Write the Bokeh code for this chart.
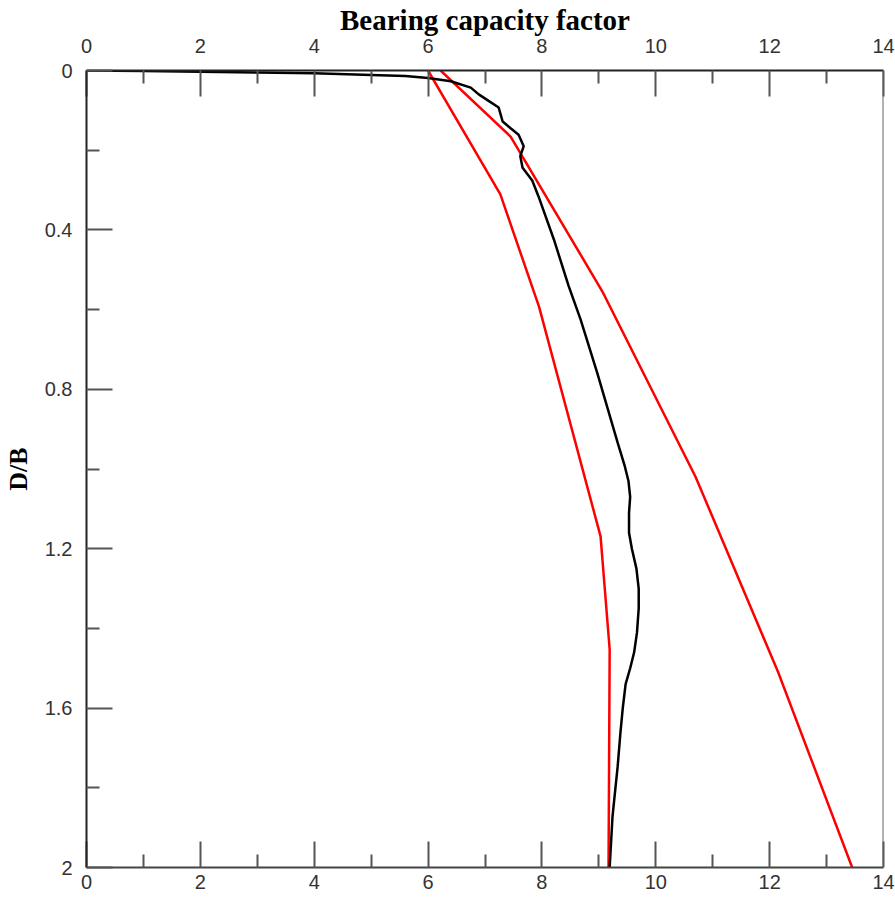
from bokeh.plotting import figure
from bokeh.models import Range1d, LinearAxis, FixedTicker, Span
from bokeh.embed import file_html
from bokeh.resources import INLINE

# ---- data ----
x_ticks = [0, 2, 4, 6, 8, 10, 12, 14]
x_minor = [1, 3, 5, 7, 9, 11, 13]
x_tick_labels = ["0", "2", "4", "6", "8", "10", "12", "14"]
y_ticks = [0, 0.4, 0.8, 1.2, 1.6, 2.0]
y_minor = [0.2, 0.6, 1.0, 1.4, 1.8]
y_tick_labels = ["0", "0.4", "0.8", "1.2", "1.6", "2"]

black_x = [0, 1, 2, 3, 4, 5, 5.6, 6.0, 6.4, 6.75, 6.89, 7.05, 7.24, 7.31, 7.45,
           7.59, 7.68, 7.62, 7.66, 7.83, 7.94, 8.21, 8.47, 8.68, 8.97, 9.33,
           9.45, 9.52, 9.55, 9.53, 9.53, 9.58, 9.66, 9.70, 9.70, 9.67, 9.62,
           9.55, 9.47, 9.42, 9.38, 9.33, 9.24, 9.19]
black_y = [0, 0.001, 0.003, 0.005, 0.007, 0.011, 0.014, 0.019, 0.027, 0.043, 0.06,
           0.075, 0.093, 0.128, 0.145, 0.161, 0.19, 0.215, 0.244, 0.276, 0.316,
           0.424, 0.541, 0.625, 0.758, 0.934, 0.99, 1.03, 1.07, 1.11, 1.16,
           1.20, 1.25, 1.30, 1.35, 1.41, 1.46, 1.50, 1.54, 1.60, 1.66, 1.747,
           1.872, 2.0]

red1_x = [6.0, 7.27, 7.95, 9.03, 9.19, 9.17]
red1_y = [0.0, 0.311, 0.593, 1.169, 1.453, 2.0]

red2_x = [6.22, 7.45, 9.06, 10.70, 12.15, 13.45]
red2_y = [0.0, 0.166, 0.554, 1.02, 1.51, 2.0]

# ---- figure ----
p = figure(frame_width=797, frame_height=797, output_backend="svg",
           toolbar_location=None,
           x_range=Range1d(0, 14), y_range=Range1d(2, 0),
           x_axis_location=None, y_axis_location=None,
           min_border_left=78, min_border_top=63, min_border_right=12,
           min_border_bottom=0)
p.grid.visible = False
p.outline_line_color = None
p.background_fill_color = "white"
p.border_fill_color = "white"

LABEL_FONT = "Liberation Sans"
TITLE_FONT = "Liberation Serif"

def style_axis(ax, ticks, minor, labels, tick_len=26, minor_len=13):
    ax.ticker = FixedTicker(ticks=ticks, minor_ticks=minor)
    ax.major_label_overrides = {t: l for t, l in zip(ticks, labels)}
    ax.major_tick_in = tick_len
    ax.major_tick_out = 0
    ax.minor_tick_in = minor_len
    ax.minor_tick_out = 0
    ax.major_tick_line_color = "#555555"
    ax.minor_tick_line_color = "#555555"
    ax.major_tick_line_width = 2
    ax.minor_tick_line_width = 2
    ax.axis_line_color = "#222222"
    ax.axis_line_width = 2
    ax.major_label_text_font = LABEL_FONT
    ax.major_label_text_font_size = "20px"
    ax.major_label_text_color = "#333333"
    ax.axis_label_text_font = TITLE_FONT
    ax.axis_label_text_font_style = "bold"
    ax.axis_label_text_color = "black"

top = LinearAxis(axis_label="Bearing capacity factor")
style_axis(top, x_ticks, x_minor, x_tick_labels)
top.axis_label_text_font_size = "29px"
top.major_label_standoff = 18
top.axis_label_standoff = 0
p.add_layout(top, "above")

bottom = LinearAxis()
style_axis(bottom, x_ticks, x_minor, x_tick_labels)
bottom.major_label_standoff = 7
bottom.axis_line_color = "#444444"
p.add_layout(bottom, "below")

left = LinearAxis(axis_label="D/B")
style_axis(left, y_ticks, y_minor, y_tick_labels)
left.axis_label_text_font_size = "26px"
left.major_label_standoff = 14
left.axis_label_standoff = 9
p.add_layout(left, "left")

p.add_layout(Span(location=x_ticks[-1], dimension="height",
                  line_color="#666666", line_width=2))

p.line(red1_x, red1_y, line_color="#ff0000", line_width=2.5)
p.line(red2_x, red2_y, line_color="#ff0000", line_width=2.5)
p.line(black_x, black_y, line_color="black", line_width=2.5)

open("out.html", "w").write(file_html(p, INLINE))
